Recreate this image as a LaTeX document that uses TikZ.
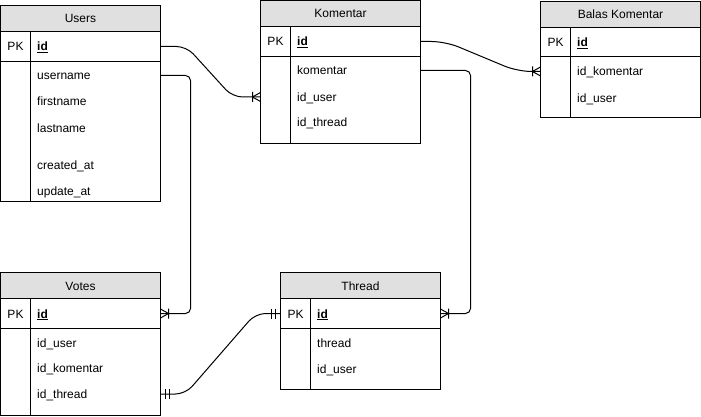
\documentclass[tikz,border=0pt]{standalone}
\usepackage{fontspec}
\setmainfont{Liberation Sans}
\usetikzlibrary{positioning,calc}
\definecolor{erhead}{HTML}{E0E0E0}
\tikzset{
  tbl/.style={draw, fill=white, line width=1pt, inner sep=0pt, outer sep=0pt,
    anchor=north west, minimum width=160pt},
  hdr/.style={draw, fill=erhead, line width=1pt, inner sep=0pt, outer sep=0pt,
    anchor=north west, minimum width=160pt, minimum height=26pt,
    text height=11pt, text depth=2pt},
  fld/.style={anchor=west, inner sep=0pt, text height=11pt, text depth=2pt},
  pk/.style={anchor=center, inner sep=0pt, text height=11pt, text depth=2pt},
  rel/.style={line width=1pt, rounded corners=10pt},
  crowfoot/.pic={\draw[line width=1pt] (-8,0) -- (0,-4.5) (-8,0) -- (0,4.5) (-8,-5) -- (-8,5);},
  onebar/.pic={\draw[line width=1pt] (-5,-5) -- (-5,5) (-9,-5) -- (-9,5);}
}

\begin{document}
\begin{tikzpicture}[x=1pt, y=-1pt, every node/.style={font=\fontsize{12}{14}\selectfont}]

  \useasboundingbox (0,0) rectangle (701,417);

  % ---- Users ----
  \node[tbl, minimum height=196pt] (users) at (0.5,5.5) {};
  \node[hdr] (users-h) at (users.north west) {Users};
  \draw[line width=1pt] (0.5,61.5) -- (160.5,61.5);
  \draw[line width=1pt] (30.5,31.5) -- (30.5,201.5);
  \node[pk] (users-pk) at (15.5,46.5) {PK};
  \node[fld] (users-id) at (37,46.5) {\underline{\textbf{id}}};
  \foreach \nm/\lbl/\y in {username/username/75.5, firstname/firstname/101.5,
      lastname/lastname/127.5, created/created\_at/164.5, update/update\_at/190.5}
    \node[fld] (users-\nm) at (37,\y) {\lbl};

  % ---- Komentar ----
  \node[tbl, minimum height=143pt] (komentar) at (260.5,0.5) {};
  \node[hdr] (komentar-h) at (komentar.north west) {Komentar};
  \draw[line width=1pt] (260.5,56.5) -- (420.5,56.5);
  \draw[line width=1pt] (290.5,26.5) -- (290.5,143.5);
  \node[pk] (komentar-pk) at (275.5,41.5) {PK};
  \node[fld] (komentar-id) at (297,41.5) {\underline{\textbf{id}}};
  \foreach \nm/\lbl/\y in {komentar/komentar/70.5, iduser/id\_user/97,
      idthread/id\_thread/122.5}
    \node[fld] (komentar-\nm) at (297,\y) {\lbl};

  % ---- Balas Komentar ----
  \node[tbl, minimum height=116pt] (balas) at (540.5,1.5) {};
  \node[hdr] (balas-h) at (balas.north west) {Balas Komentar};
  \draw[line width=1pt] (540.5,56.5) -- (700.5,56.5);
  \draw[line width=1pt] (570.5,27.5) -- (570.5,117.5);
  \node[pk] (balas-pk) at (555.5,42) {PK};
  \node[fld] (balas-id) at (577,42) {\underline{\textbf{id}}};
  \foreach \nm/\lbl/\y in {idkomentar/id\_komentar/71.5, iduser/id\_user/98}
    \node[fld] (balas-\nm) at (577,\y) {\lbl};

  % ---- Votes ----
  \node[tbl, minimum height=143pt] (votes) at (0.5,272.5) {};
  \node[hdr] (votes-h) at (votes.north west) {Votes};
  \draw[line width=1pt] (0.5,328.5) -- (160.5,328.5);
  \draw[line width=1pt] (30.5,298.5) -- (30.5,415.5);
  \node[pk] (votes-pk) at (15.5,313.5) {PK};
  \node[fld] (votes-id) at (37,313.5) {\underline{\textbf{id}}};
  \foreach \nm/\lbl/\y in {iduser/id\_user/342.5, idkomentar/id\_komentar/368,
      idthread/id\_thread/394}
    \node[fld] (votes-\nm) at (37,\y) {\lbl};

  % ---- Thread ----
  \node[tbl, minimum height=117pt] (thread) at (280.5,272.5) {};
  \node[hdr] (thread-h) at (thread.north west) {Thread};
  \draw[line width=1pt] (280.5,328.5) -- (440.5,328.5);
  \draw[line width=1pt] (310.5,298.5) -- (310.5,389.5);
  \node[pk] (thread-pk) at (295.5,313.5) {PK};
  \node[fld] (thread-id) at (317,313.5) {\underline{\textbf{id}}};
  \foreach \nm/\lbl/\y in {thread/thread/342.5, iduser/id\_user/368.5}
    \node[fld] (thread-\nm) at (317,\y) {\lbl};

  % ---- Relations ----
  % Users -> Komentar
  \draw[rel] (users.east |- users-id) -- ++(26,0)
    -- ([xshift=-28pt]komentar.west |- komentar-iduser)
    -- (komentar.west |- komentar-iduser);
  \pic at (komentar.west |- komentar-iduser) {crowfoot};
  % Komentar -> Balas Komentar
  \draw[rel, rounded corners=14pt] (komentar.east |- komentar-id) -- ++(25,0)
    -- ([xshift=-23pt]balas.west |- balas-idkomentar)
    -- (balas.west |- balas-idkomentar);
  \pic at (balas.west |- balas-idkomentar) {crowfoot};
  % Users -> Votes
  \draw[rel, rounded corners=5pt] (users.east |- users-username) -- ++(30,0)
    |- (votes.east |- votes-id);
  \pic[xscale=-1] at (votes.east |- votes-id) {crowfoot};
  % Komentar -> Thread
  \draw[rel, rounded corners=5pt] (komentar.east |- komentar-komentar) -- ++(50,0)
    |- (thread.east |- thread-id);
  \pic[xscale=-1] at (thread.east |- thread-id) {crowfoot};
  % Votes -> Thread
  \draw[rel] (votes.east |- votes-idthread) -- ++(25,0)
    -- ([xshift=-25pt]thread.west |- thread-id)
    -- (thread.west |- thread-id);
  \pic[xscale=-1] at (votes.east |- votes-idthread) {onebar};
  \pic at (thread.west |- thread-id) {onebar};

\end{tikzpicture}
\end{document}
